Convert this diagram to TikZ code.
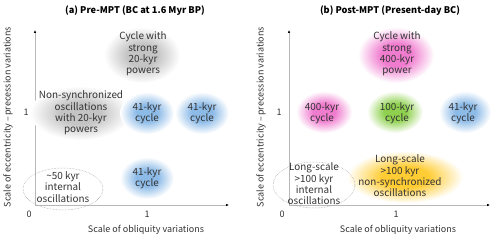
\documentclass[tikz,border=0pt]{standalone}
\usepackage{fontspec}
\setmainfont{Noto Sans CJK JP}
\usetikzlibrary{arrows.meta}
\pgfdeclareradialshading[blobcol]{blob}{\pgfpoint{0bp}{0bp}}{color(0bp)=(blobcol); color(10bp)=(blobcol); color(25bp)=(white); color(50bp)=(white)}
\definecolor{cblue}{HTML}{8DBBE8}
\definecolor{cgray}{HTML}{C4C4C4}
\definecolor{cpink}{HTML}{F07CCF}
\definecolor{cgreen}{HTML}{8FD14F}
\definecolor{cyellow}{HTML}{FFCC33}
\definecolor{txt}{HTML}{333333}
\newcommand\myblob[5]{\colorlet{blobcol}{#5}\shade[shading=blob] (#1,#2) ellipse ({#3} and {#4});}
\begin{document}
\begin{tikzpicture}[x=1pt,y=-1pt,
  lbl/.style={text=txt,align=center,font=\fontsize{9.9}{11.4}\selectfont,inner sep=0pt},
  ttl/.style={text=black,font=\fontsize{9.2}{11}\selectfont\bfseries,inner sep=0pt},
  axl/.style={text=txt,font=\fontsize{9}{10}\selectfont,inner sep=0pt},
  axis/.style={draw=black!28,line width=0.8pt,-{Latex[black,length=3pt,width=2.6pt]}},
  ring/.style={draw=black!40,densely dotted,line width=0.5pt}]
\useasboundingbox (0,0) rectangle (500,240);
% ---------- panel (a)
\node[ttl] (ta) at (135,11) {(a) Pre-MPT (BC at 1.6 Myr BP)};
\coordinate (oa) at (35,205);
\coordinate (ya) at (35,30);
\coordinate (xa) at (229,205);
\draw[axis] (oa) -- (ya);
\draw[axis] (oa) -- (xa);
\node[axl] (za) at (29,214) {0};
\node[axl] (x1a) at (147,214) {1};
\node[axl] (y1a) at (26,112) {1};
\node[axl] (xla) at (146,230) {Scale of obliquity variations};
\node[axl,rotate=90] (yla) at (8,117) {Scale of eccentricity\,–\,precession variations};
\myblob{142}{55}{38}{28}{cgray}
\myblob{80}{113}{50}{27}{cgray}
\myblob{147}{113}{27}{21}{cblue}
\myblob{202}{113}{27}{21}{cblue}
\myblob{147}{178}{27}{21}{cblue}
\node[lbl] (a1) at (143,54) {Cycle with\\strong\\20-kyr\\powers};
\node[lbl] (a2) at (81,113) {Non-synchronized\\oscillations\\with 20-kyr\\powers};
\node[lbl] (a3) at (147,113) {41-kyr\\cycle};
\node[lbl] (a4) at (202,113) {41-kyr\\cycle};
\node[lbl] (a5) at (147,178) {41-kyr\\cycle};
\draw[ring] (63,189) ellipse (40 and 21);
\node[lbl] (a6) at (63,187) {\textasciitilde50 kyr\\internal\\oscillations};
% ---------- panel (b)
\node[ttl] (tb) at (390,11) {(b) Post-MPT (Present-day BC)};
\coordinate (ob) at (289,205);
\coordinate (yb) at (289,30);
\coordinate (xb) at (490,205);
\draw[axis] (ob) -- (yb);
\draw[axis] (ob) -- (xb);
\node[axl] (zb) at (282,214) {0};
\node[axl] (x1b) at (396,214) {1};
\node[axl] (y1b) at (279,112) {1};
\node[axl] (xlb) at (398,230) {Scale of obliquity variations};
\node[axl,rotate=90] (ylb) at (261,117) {Scale of eccentricity\,–\,precession variations};
\myblob{396}{55}{38}{28}{cpink}
\myblob{324}{112}{28}{21}{cpink}
\myblob{395}{112}{28}{21}{cgreen}
\myblob{465}{112}{26}{21}{cblue}
\myblob{405}{177}{58}{26}{cyellow}
\node[lbl] (b1) at (397,54) {Cycle with\\strong\\400-kyr\\power};
\node[lbl] (b2) at (322,113) {400-kyr\\cycle};
\node[lbl] (b3) at (397,113) {100-kyr\\cycle};
\node[lbl] (b4) at (463,113) {41-kyr\\cycle};
\node[lbl] (b5) at (400,176) {Long-scale\\>100 kyr\\non-synchronized\\oscillations};
\draw[ring] (314,185) ellipse (41 and 23);
\node[lbl] (b6) at (314,184) {Long-scale\\>100 kyr\\internal\\oscillations};
\end{tikzpicture}
\end{document}
